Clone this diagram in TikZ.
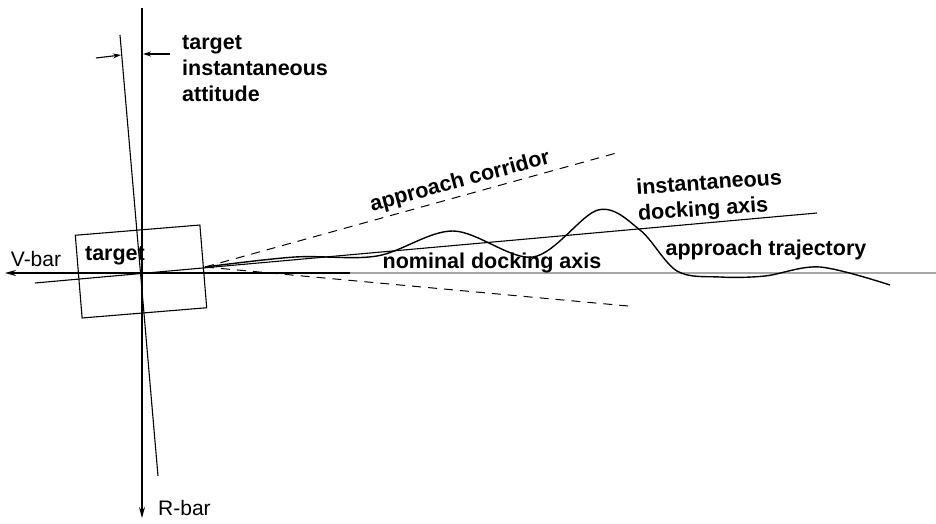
\documentclass[tikz,border=0pt]{standalone}
\usepackage{fontspec}
\setmainfont{Liberation Sans}
\usetikzlibrary{arrows.meta}
\begin{document}
\begin{tikzpicture}[x=1pt,y=-1pt,
  lbl/.style={font=\fontsize{21.5}{26}\selectfont\bfseries, inner sep=0pt, align=left},
  plainlbl/.style={font=\fontsize{21}{25}\selectfont, inner sep=0pt},
  axisline/.style={line width=1.4pt, -{Stealth[length=11pt,width=6pt]}},
  markarrow/.style={line width=1.1pt, -{Stealth[length=8pt,width=5pt]}},
  thinline/.style={line width=1.1pt},
  corridor/.style={line width=1pt, dash pattern=on 9pt off 7pt},
]
\useasboundingbox (0,0) rectangle (936,524);

% nominal docking axis (grey) and the V-bar axis
\coordinate (nomstart) at (200,273);
\coordinate (nomend) at (936,273);
\draw[black!35, line width=2.2pt] (nomstart) -- (nomend);
\coordinate (vstart) at (350,273);
\coordinate (vend) at (5,273);
\draw[axisline] (vstart) -- (vend);
\node[plainlbl] (vbar) at (36,259) {V-bar};

% R-bar axis
\coordinate (rtop) at (142,8);
\coordinate (rbot) at (142,518);
\draw[axisline] (rtop) -- (rbot);
\node[plainlbl, anchor=west] (rbar) at (158,508) {R-bar};

% target body, tilted with its attitude
\node[draw, thinline, minimum width=125pt, minimum height=83pt, rotate=4.7, inner sep=0pt]
  (tgt) at (141,271.5) {};
\node[lbl] (tgtlbl) at (115,256) {target};

% target instantaneous attitude line
\coordinate (atttop) at (120,35);
\coordinate (attbot) at (158,476);
\draw[thinline] (atttop) -- (attbot);

% attitude angle markers
\coordinate (mlstart) at (96,58);
\coordinate (mlend) at (121,55);
\draw[markarrow] (mlstart) -- (mlend);
\coordinate (mrstart) at (170,54);
\coordinate (mrend) at (143,54);
\draw[markarrow] (mrstart) -- (mrend);
\node[lbl, anchor=north west] (attlbl) at (182,35) {target\\instantaneous\\attitude};

% instantaneous docking axis
\coordinate (idastart) at (35,283);
\coordinate (idaend) at (817,213);
\draw[thinline] (idastart) -- (idaend);

% approach corridor
\coordinate (apex) at (205,267);
\coordinate (corrup) at (620,152);
\coordinate (corrlow) at (628,306);
\draw[corridor] (apex) -- (corrup);
\draw[corridor] (apex) -- (corrlow);
\node[lbl, rotate=15] (corrlbl) at (460,182) {approach corridor};

% approach trajectory
\draw[line width=1.4pt] plot[smooth, tension=0.55] coordinates {
  (205,267) (295,257) (377,256) (453,231) (533,257) (598,210)
  (640,230) (677,271) (720,277) (765,276) (820,267) (890,285)};

% labels
\node[lbl, anchor=base] (nomlbl) at (492,268) {nominal docking axis};
\node[lbl, rotate=4, align=left] (idalbl) at (710,197) {instantaneous\\docking axis};
\node[lbl, anchor=base] (trajlbl) at (766,255) {approach trajectory};
\end{tikzpicture}
\end{document}
